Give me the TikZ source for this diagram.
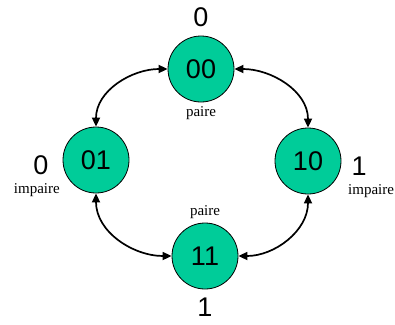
\documentclass[tikz,border=0pt]{standalone}
\usepackage{fontspec}
\setmainfont{Liberation Serif}
\setsansfont{Liberation Sans}
\usepackage{xcolor}
\usepackage{tikz}
\usetikzlibrary{positioning,arrows.meta}
\definecolor{etatvert}{RGB}{0,204,153}

\begin{document}
\begin{tikzpicture}[x=1pt, y=-1pt,
  etat/.style={circle, draw, line width=0.8pt, fill=etatvert, minimum size=66pt, inner sep=0pt, font=\sffamily\fontsize{27}{30}\selectfont},
  sortie/.style={inner sep=0pt, font=\sffamily\fontsize{27}{30}\selectfont},
  parite/.style={inner sep=0pt, font=\fontsize{15}{17}\selectfont},
  arr/.style={{Triangle[length=9pt,width=8pt]}-{Triangle[length=9pt,width=8pt]}, line width=1.7pt},
]
\useasboundingbox (0,0) rectangle (395,324);
\node[etat] (e00) at (201,69) {00};
\node[etat] (e01) at (96,160) {01};
\node[etat] (e10) at (308,161) {10};
\node[etat] (e11) at (205,256) {11};

\node[sortie, above=9pt of e00] (s00) {0};
\node[parite, below=4pt of e00] (p00) {paire};
\node[sortie, left=14pt of e01, yshift=-5pt] (s01) {0};
\node[parite, below=9pt of s01, xshift=-4pt] (p01) {impaire};
\node[sortie, right=10pt of e10, yshift=-5pt] (s10) {1};
\node[parite, below=9pt of s10, xshift=12pt] (p10) {impaire};
\node[parite, above=4pt of e11] (p11) {paire};
\node[sortie, below=8pt of e11] (s11) {1};

\draw[arr] (e00.west) to[out=180, in=90] (e01.north);
\draw[arr] (e00.east) to[out=0, in=90] (e10.north);
\draw[arr] (e01.south) to[out=-90, in=180] (e11.west);
\draw[arr] (e10.south) to[out=-90, in=0] (e11.east);
\end{tikzpicture}
\end{document}
